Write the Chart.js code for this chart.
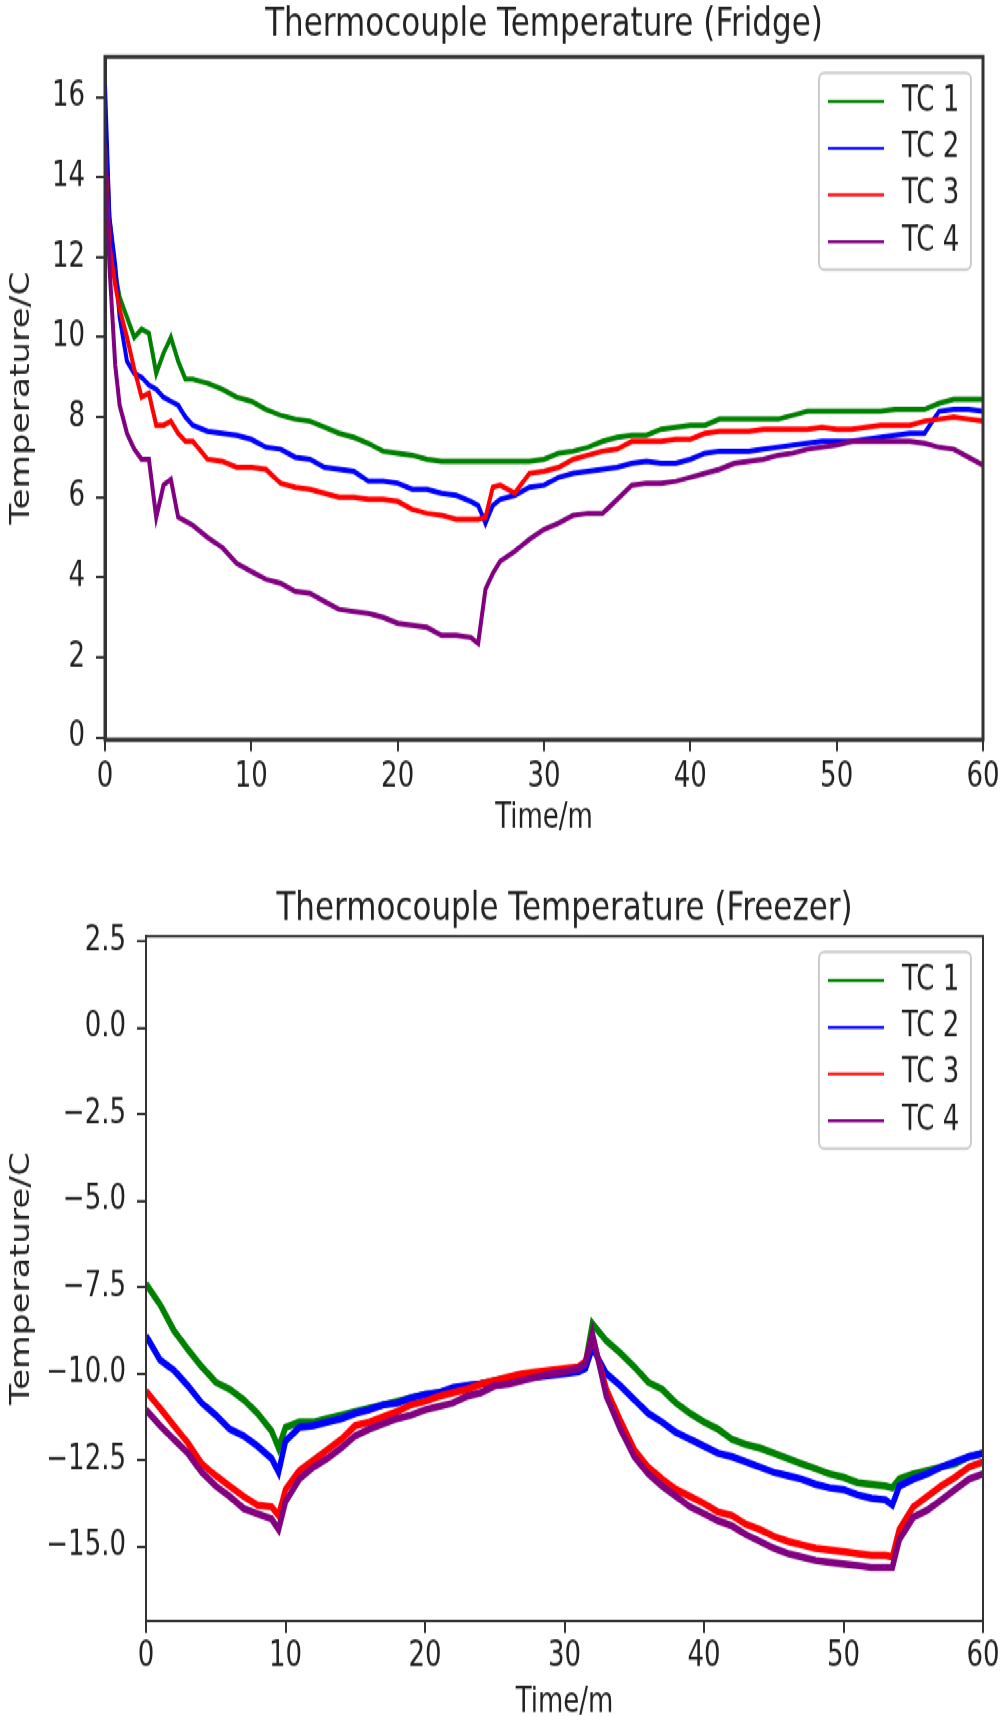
<!DOCTYPE html>
<html>
<head>
<meta charset="utf-8">
<title>Thermocouple Temperature</title>
<script src="https://cdn.jsdelivr.net/npm/chart.js@4.4.0/dist/chart.umd.min.js"></script>
<style>
    html, body { margin: 0; padding: 0; background: #fff; overflow: hidden; }
    /* the original figure is stretched vertically, so the whole page is too */
    #page { position: absolute; left: 0; top: 0; width: 1002px; height: 1312px; transform: scaleY(1.32); transform-origin: 0 0; }
    #fridgeChart { position: absolute; left: 0; top: 0; }
    #freezerChart { position: absolute; left: 0; top: 652px; }
</style>
</head>
<body>
<div id="page">
    <canvas id="fridgeChart" width="1002" height="652"></canvas>
    <canvas id="freezerChart" width="1002" height="660"></canvas>
</div>
<script>
// Fridge readings (time in minutes, temperature in C)
const fridgeTime = [0, 0.3, 0.7, 1, 1.5, 2, 2.5, 3, 3.5, 4, 4.5, 5, 5.5,
    6, 7, 8, 9, 10, 11, 12, 13, 14, 15, 16, 17, 18, 19, 20, 21, 22, 23, 24, 25,
    25.5, 26, 26.5,
    27, 28, 29, 30, 31, 32, 33, 34, 35, 36, 37, 38, 39, 40, 41, 42, 43, 44, 45, 46, 47, 48, 49, 50, 51, 52, 53, 54, 55, 56, 57, 58, 59, 60];
const fridgeTC1 = [15.5, 13.0, 11.6, 11.0, 10.5, 10.0, 10.2, 10.1, 9.1, 9.6, 10.0, 9.4, 8.95,
    8.95, 8.85, 8.7, 8.5, 8.4, 8.2, 8.05, 7.95, 7.9, 7.75, 7.6, 7.5, 7.35, 7.15, 7.1, 7.05, 6.95, 6.9, 6.9, 6.9,
    6.9, 6.9, 6.9,
    6.9, 6.9, 6.9, 6.95, 7.1, 7.15, 7.25, 7.4, 7.5, 7.55, 7.55, 7.7, 7.75, 7.8, 7.8, 7.95, 7.95, 7.95, 7.95, 7.95, 8.05, 8.15, 8.15, 8.15, 8.15, 8.15, 8.15, 8.2, 8.2, 8.2, 8.35, 8.45, 8.45, 8.45];
const fridgeTC2 = [16.3, 13.0, 11.8, 10.5, 9.4, 9.1, 9.0, 8.8, 8.7, 8.5, 8.4, 8.3, 8.0,
    7.8, 7.65, 7.6, 7.55, 7.45, 7.25, 7.2, 7.0, 6.95, 6.75, 6.7, 6.65, 6.4, 6.4, 6.35, 6.2, 6.2, 6.1, 6.05, 5.9,
    5.8, 5.35, 5.8,
    5.95, 6.05, 6.25, 6.3, 6.5, 6.6, 6.65, 6.7, 6.75, 6.85, 6.9, 6.85, 6.85, 6.95, 7.1, 7.15, 7.15, 7.15, 7.2, 7.25, 7.3, 7.35, 7.4, 7.4, 7.4, 7.45, 7.5, 7.55, 7.6, 7.6, 8.15, 8.2, 8.2, 8.15];
const fridgeTC3 = [14.8, 12.3, 11.3, 10.7, 10.0, 9.2, 8.5, 8.6, 7.8, 7.8, 7.9, 7.6, 7.4,
    7.4, 6.95, 6.9, 6.75, 6.75, 6.7, 6.35, 6.25, 6.2, 6.1, 6.0, 6.0, 5.95, 5.95, 5.9, 5.7, 5.6, 5.55, 5.45, 5.45,
    5.45, 5.5, 6.25,
    6.3, 6.1, 6.6, 6.65, 6.75, 6.95, 7.05, 7.15, 7.2, 7.4, 7.4, 7.4, 7.45, 7.45, 7.6, 7.65, 7.65, 7.65, 7.7, 7.7, 7.7, 7.7, 7.75, 7.7, 7.7, 7.75, 7.8, 7.8, 7.8, 7.9, 7.95, 8.0, 7.95, 7.9];
const fridgeTC4 = [14.8, 11.8, 9.3, 8.3, 7.6, 7.2, 6.95, 6.95, 5.5, 6.3, 6.45, 5.5, 5.4,
    5.3, 5.0, 4.75, 4.35, 4.15, 3.95, 3.85, 3.65, 3.6, 3.4, 3.2, 3.15, 3.1, 3.0, 2.85, 2.8, 2.75, 2.55, 2.55, 2.5,
    2.35, 3.7, 4.1,
    4.4, 4.65, 4.95, 5.2, 5.35, 5.55, 5.6, 5.6, 5.95, 6.3, 6.35, 6.35, 6.4, 6.5, 6.6, 6.7, 6.85, 6.9, 6.95, 7.05, 7.1, 7.2, 7.25, 7.3, 7.4, 7.4, 7.4, 7.4, 7.4, 7.35, 7.25, 7.2, 7.0, 6.8];

// Freezer readings
const freezerTime = [0, 1, 2, 3, 4, 5, 6, 7, 8, 9, 9.5,
    10, 11, 12, 13, 14, 15, 16, 17, 18, 19, 20, 21, 22, 23, 24, 25, 26, 27, 28, 29, 30, 31, 31.5,
    32, 33, 34, 35, 36, 37, 38, 39, 40, 41, 42, 43, 44, 45, 46, 47, 48, 49, 50, 51, 52, 53, 53.5,
    54, 55, 56, 57, 58, 59, 60];
const freezerTC1 = [-7.4, -8.0, -8.75, -9.3, -9.8, -10.25, -10.45, -10.75, -11.15, -11.65, -12.15,
    -11.55, -11.4, -11.4, -11.3, -11.2, -11.1, -11.0, -10.9, -10.8, -10.7, -10.6, -10.55, -10.45, -10.35, -10.3, -10.2, -10.15, -10.1, -10.05, -10.0, -9.95, -9.85, -9.7,
    -8.55, -9.05, -9.4, -9.8, -10.25, -10.45, -10.85, -11.15, -11.4, -11.6, -11.9, -12.05, -12.15, -12.3, -12.45, -12.6, -12.75, -12.9, -13.0, -13.15, -13.2, -13.25, -13.3,
    -13.05, -12.9, -12.8, -12.7, -12.6, -12.4, -12.3];
const freezerTC2 = [-8.9, -9.6, -9.9, -10.35, -10.85, -11.2, -11.6, -11.8, -12.1, -12.45, -12.85,
    -11.95, -11.55, -11.5, -11.4, -11.3, -11.15, -11.05, -10.9, -10.85, -10.7, -10.6, -10.55, -10.4, -10.35, -10.3, -10.25, -10.2, -10.1, -10.1, -10.05, -10.0, -9.95, -9.85,
    -9.25, -10.0, -10.35, -10.75, -11.15, -11.4, -11.7, -11.9, -12.1, -12.3, -12.4, -12.55, -12.7, -12.85, -12.95, -13.05, -13.2, -13.3, -13.35, -13.5, -13.6, -13.65, -13.8,
    -13.25, -13.05, -12.9, -12.7, -12.55, -12.4, -12.3];
const freezerTC3 = [-10.5, -11.0, -11.5, -12.0, -12.6, -12.95, -13.25, -13.55, -13.8, -13.85, -14.1,
    -13.35, -12.8, -12.5, -12.2, -11.9, -11.5, -11.4, -11.25, -11.1, -10.9, -10.8, -10.65, -10.55, -10.45, -10.3, -10.2, -10.1, -10.0, -9.95, -9.9, -9.85, -9.8, -9.65,
    -8.95, -10.45, -11.35, -12.2, -12.7, -13.05, -13.35, -13.55, -13.75, -14.0, -14.1, -14.35, -14.5, -14.7, -14.85, -14.95, -15.05, -15.1, -15.15, -15.2, -15.25, -15.25, -15.3,
    -14.5, -13.85, -13.55, -13.25, -13.0, -12.7, -12.55];
const freezerTC4 = [-11.05, -11.5, -11.9, -12.3, -12.85, -13.25, -13.55, -13.9, -14.05, -14.2, -14.5,
    -13.7, -13.05, -12.7, -12.45, -12.15, -11.8, -11.6, -11.45, -11.3, -11.2, -11.05, -10.95, -10.85, -10.65, -10.55, -10.35, -10.3, -10.2, -10.1, -10.0, -9.95, -9.85, -9.7,
    -8.85, -10.65, -11.6, -12.4, -12.9, -13.25, -13.55, -13.85, -14.05, -14.25, -14.4, -14.65, -14.85, -15.05, -15.2, -15.3, -15.4, -15.45, -15.5, -15.55, -15.6, -15.6, -15.6,
    -14.8, -14.15, -13.95, -13.65, -13.35, -13.05, -12.9];

const seriesLabels = ['TC 1', 'TC 2', 'TC 3', 'TC 4'];
const timeTicks = [0, 10, 20, 30, 40, 50, 60];
const fridgeTempTicks = [0, 2, 4, 6, 8, 10, 12, 14, 16];
const freezerTempTicks = [2.5, 0, -2.5, -5, -7.5, -10, -12.5, -15];

const seriesColors = ['#008000', '#0000ff', '#ff0000', '#800080'];

Chart.defaults.font.family = "'DejaVu Sans', sans-serif";
Chart.defaults.color = '#222';

function toPoints(times, values) {
    return times.map((t, i) => ({ x: t, y: values[i] }));
}

// Full box around the plot area, drawn over the lines like matplotlib spines
const axesFrame = {
    id: 'axesFrame',
    afterDatasetsDraw(chart, args, opts) {
        const { ctx, chartArea: a } = chart;
        ctx.save();
        ctx.strokeStyle = '#333';
        ctx.lineWidth = opts.width;
        ctx.strokeRect(a.left, a.top, a.right - a.left, a.bottom - a.top);
        ctx.restore();
    }
};

// Legend inside the plot, upper right corner
const insideLegend = {
    id: 'insideLegend',
    afterDraw(chart) {
        const { ctx, chartArea: a } = chart;
        const w = 152, h = 149;
        const x = a.right - 12 - w;
        const y = a.top + 12;
        ctx.save();
        ctx.beginPath();
        ctx.roundRect(x, y, w, h, 5);
        ctx.fillStyle = 'rgba(255,255,255,0.85)';
        ctx.fill();
        ctx.strokeStyle = '#cccccc';
        ctx.lineWidth = 2;
        ctx.stroke();
        ctx.font = "26px 'DejaVu Sans'";
        ctx.textBaseline = 'middle';
        chart.data.datasets.forEach((ds, i) => {
            const ly = y + 21.7 + i * 35.4;
            ctx.beginPath();
            ctx.moveTo(x + 9, ly);
            ctx.lineTo(x + 65, ly);
            ctx.strokeStyle = ds.borderColor;
            ctx.lineWidth = 2.2;
            ctx.stroke();
            ctx.fillStyle = '#222';
            ctx.fillText(ds.label, x + 83, ly);
        });
        ctx.restore();
    }
};

function makeDatasets(times, series, width) {
    return series.map((values, i) => ({
        label: seriesLabels[i],
        data: toPoints(times, values),
        borderColor: seriesColors[i],
        backgroundColor: seriesColors[i],
        borderWidth: width,
        pointRadius: 0,
        tension: 0,
        order: series.length - i
    }));
}

function createChart(canvasId, cfg) {
    const ctx = document.getElementById(canvasId).getContext('2d');
    return new Chart(ctx, {
        type: 'line',
        data: { datasets: makeDatasets(cfg.times, cfg.series, cfg.lineWidth) },
        plugins: [axesFrame, insideLegend],
        options: {
            responsive: false,
            animation: false,
            devicePixelRatio: 1,
            layout: { padding: { left: 0, right: 19, top: 0, bottom: 0 } },
            plugins: {
                legend: { display: false },
                tooltip: { enabled: false },
                axesFrame: { width: cfg.frameWidth },
                title: {
                    display: true,
                    text: cfg.title,
                    fullSize: false,
                    color: '#222',
                    font: { size: 31, weight: 'normal' },
                    padding: { top: cfg.titleTop, bottom: cfg.titleBottom }
                }
            },
            scales: {
                x: {
                    type: 'linear',
                    min: 0,
                    max: 60,
                    afterBuildTicks: scale => { scale.ticks = timeTicks.map(v => ({ value: v })); },
                    afterFit: scale => {
                        scale.height = cfg.xAxisHeight;
                        scale.paddingLeft = 0;
                        scale.paddingRight = 0;
                    },
                    ticks: { autoSkip: false, maxRotation: 0, padding: cfg.xTickPad, font: { size: 26 }, color: '#222' },
                    grid: { drawOnChartArea: false, drawTicks: true, tickLength: 9, color: '#333', lineWidth: 2 },
                    border: { display: true, color: '#333', width: cfg.frameWidth },
                    title: { display: true, text: 'Time/m', color: '#222', font: { size: 26 }, padding: { top: 0, bottom: cfg.xTitlePad } }
                },
                y: {
                    type: 'linear',
                    min: cfg.yMin,
                    max: cfg.yMax,
                    afterBuildTicks: scale => { scale.ticks = cfg.yTicks.map(v => ({ value: v })); },
                    afterFit: scale => {
                        scale.width = cfg.yAxisWidth;
                        scale.paddingTop = 0;
                        scale.paddingBottom = 0;
                    },
                    ticks: { autoSkip: false, padding: 11, font: { size: 26 }, color: '#222', callback: cfg.yFormat },
                    grid: { drawOnChartArea: false, drawTicks: true, tickLength: 9, color: '#333', lineWidth: 2 },
                    border: { display: true, color: '#333', width: cfg.frameWidth },
                    title: { display: true, text: 'Temperature/C', color: '#222', font: { size: 26 }, padding: { top: 6.4, bottom: 0 } }
                }
            }
        }
    });
}

createChart('fridgeChart', {
    title: 'Thermocouple Temperature (Fridge)',
    times: fridgeTime,
    series: [fridgeTC1, fridgeTC2, fridgeTC3, fridgeTC4],
    lineWidth: 4,
    frameWidth: 3,
    titleTop: 0,
    titleBottom: 6,
    xAxisHeight: 91.8,
    xTickPad: 4,
    xTitlePad: 15.9,
    yAxisWidth: 105,
    yMin: -0.05,
    yMax: 17.0,
    yTicks: fridgeTempTicks,
    yFormat: v => String(v)
});

createChart('freezerChart', {
    title: 'Thermocouple Temperature (Freezer)',
    times: freezerTime,
    series: [freezerTC1, freezerTC2, freezerTC3, freezerTC4],
    lineWidth: 5.5,
    frameWidth: 2,
    titleTop: 18,
    titleBottom: 2,
    xAxisHeight: 84,
    xTickPad: 3,
    xTitlePad: 6.2,
    yAxisWidth: 146,
    yMin: -17.15,
    yMax: 2.65,
    yTicks: freezerTempTicks,
    yFormat: v => v.toFixed(1).replace('-', '\u2212')
});
</script>
</body>
</html>
